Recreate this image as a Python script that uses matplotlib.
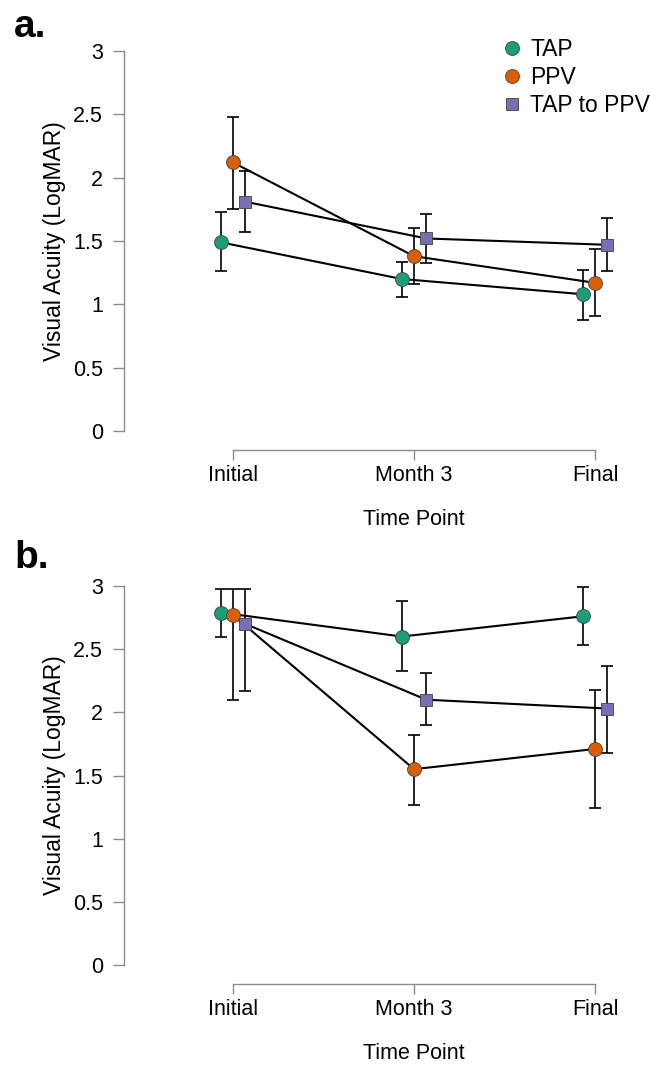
import matplotlib
matplotlib.use('Agg')
import matplotlib.pyplot as plt
from matplotlib.lines import Line2D
import numpy as np

plt.rcParams['font.family'] = ['Liberation Sans', 'DejaVu Sans']

# --- data ---
time_points = ['Initial', 'Month 3', 'Final']
groups = ['TAP', 'PPV', 'TAP to PPV']
colors = ['#1b9e77', '#d95f02', '#7570b3']
markers = ['o', 'o', 's']

# panel a: means and error bar ends
a_mean = {'TAP': [1.49, 1.20, 1.08],
          'PPV': [2.12, 1.38, 1.17],
          'TAP to PPV': [1.81, 1.52, 1.47]}
a_low = {'TAP': [1.26, 1.06, 0.88],
         'PPV': [1.75, 1.16, 0.91],
         'TAP to PPV': [1.57, 1.33, 1.26]}
a_high = {'TAP': [1.73, 1.335, 1.27],
          'PPV': [2.48, 1.60, 1.44],
          'TAP to PPV': [2.055, 1.71, 1.68]}

# panel b
b_mean = {'TAP': [2.79, 2.60, 2.76],
          'PPV': [2.77, 1.55, 1.71],
          'TAP to PPV': [2.70, 2.10, 2.03]}
b_low = {'TAP': [2.60, 2.33, 2.53],
         'PPV': [2.10, 1.27, 1.24],
         'TAP to PPV': [2.17, 1.90, 1.68]}
b_high = {'TAP': [2.98, 2.88, 2.99],
          'PPV': [2.98, 1.82, 2.18],
          'TAP to PPV': [2.98, 2.31, 2.37]}

offsets = [-0.068, 0.0, 0.068]

W, H = 650, 1065
fig = plt.figure(figsize=(W / 100, H / 100), dpi=100)

spine_col = '#8c8c8c'
fs = 15.5


def panel(top_px, bottom_px, mean, low, high, letter, letter_y, show_legend):
    left, right = 124, 630
    ax = fig.add_axes([left / W, 1 - bottom_px / H, (right - left) / W, (bottom_px - top_px) / H])
    x = np.arange(len(time_points))
    for g, c, m, off in zip(groups, colors, markers, offsets):
        xs = x + off
        mu = np.array(mean[g])
        lo = mu - np.array(low[g])
        hi = np.array(high[g]) - mu
        ax.plot(xs, mu, color='black', lw=1.5, zorder=2, clip_on=False)
        ax.errorbar(xs, mu, yerr=[lo, hi], fmt='none', ecolor='black', elinewidth=1.2,
                    capsize=4.5, capthick=1.2, zorder=3, clip_on=False)
        ax.plot(xs, mu, ls='none', marker=m, ms=10 if m == 'o' else 9,
                mfc=c, mec='#404040', mew=0.6, zorder=4, clip_on=False)

    ax.set_xlim(-(233 - left) / 181, 2 + (right - 595) / 181)
    ax.set_ylim(0, 3)
    ax.set_xticks(x)
    ax.set_xticklabels(time_points)
    ax.set_yticks([0, 0.5, 1, 1.5, 2, 2.5, 3])
    ax.set_yticklabels(['0', '0.5', '1', '1.5', '2', '2.5', '3'])
    for s in ['top', 'right']:
        ax.spines[s].set_visible(False)
    for s in ['left', 'bottom']:
        ax.spines[s].set_color(spine_col)
        ax.spines[s].set_linewidth(1.0)
    ax.spines['bottom'].set_position(('outward', 13.7))
    ax.spines['bottom'].set_bounds(0, 2)
    ax.spines['left'].set_bounds(0, 3)
    ax.tick_params(axis='y', length=8, width=1, color=spine_col, pad=7, labelsize=fs)
    ax.tick_params(axis='x', length=7.5, width=1, color=spine_col, pad=3, labelsize=fs)

    ax.set_ylabel('Visual Acuity (LogMAR)', fontsize=16.5)
    ax.yaxis.set_label_coords(-0.115, 0.5)
    ax.set_xlabel('Time Point', fontsize=fs)
    ax.xaxis.set_label_coords((414 - left) / (right - left), -0.205)

    fig.text(14 / W, 1 - letter_y / H, letter, fontsize=28, fontweight='bold', va='baseline')

    if show_legend:
        handles = [Line2D([], [], ls='none', marker=m, ms=10 if m == 'o' else 9,
                          mfc=c, mec='#404040', mew=0.6) for c, m in zip(colors, markers)]
        fig.legend(handles, groups, loc='upper left', bbox_to_anchor=(503 / W, 1 - 38 / H),
                   frameon=False, fontsize=16.5, handlelength=0.8, handletextpad=0.4,
                   labelspacing=0.22, borderaxespad=0, borderpad=0)
    return ax


panel(51, 431, a_mean, a_low, a_high, 'a.', 37, True)
panel(586, 965, b_mean, b_low, b_high, 'b.', 568, False)

fig.savefig('out.png', dpi=100)
